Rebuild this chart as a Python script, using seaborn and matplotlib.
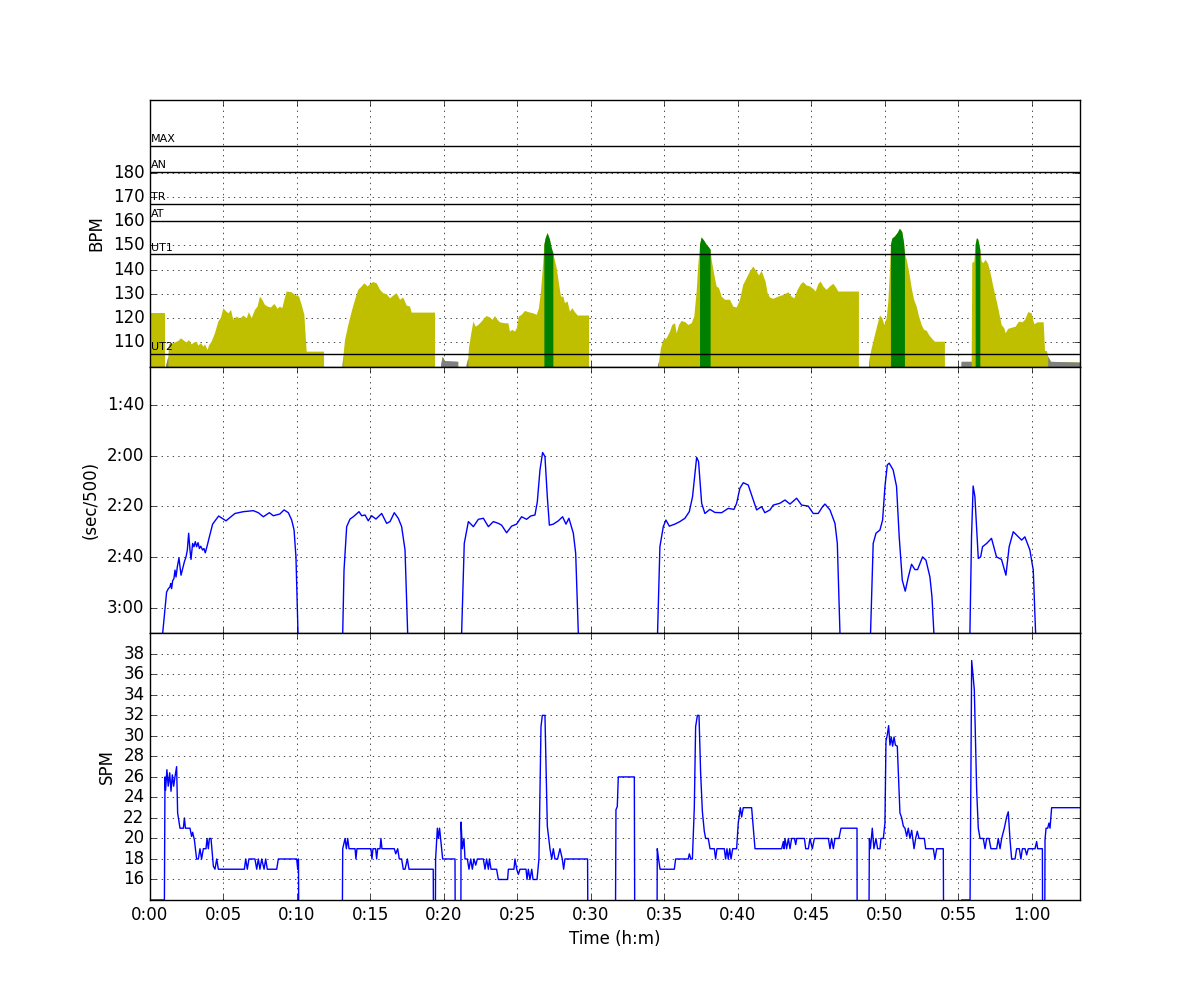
"""Rowing session overview: heart rate by zone, pace and stroke rate on a shared time axis.

Out: out.png
"""

import matplotlib

matplotlib.use("Agg")
import matplotlib.pyplot as plt
import numpy as np
import seaborn as sns
from matplotlib.ticker import FuncFormatter, MultipleLocator

nan = float("nan")

# Heart-rate zone limits (bpm) and their labels.
ZONE_NAMES = ["UT2", "UT1", "AT", "TR", "AN", "MAX"]
ZONE_BPM = [105.2, 146.3, 160.1, 167.2, 180.3, 191.2]

# (minutes, bpm); nan = no reading above 100 bpm.
HR = [
    (0.0, 122.3), (1.02, 122.3), (1.04, nan),
    (1.1, 100.5), (1.25, 104.1), (1.29, 109.2), (1.59, 109.7), (1.93, 110.6), (2.11, 111.7),
    (2.34, 110.6), (2.49, 110.0), (2.65, 111.0), (2.83, 109.2), (3.02, 110.0), (3.17, 110.3),
    (3.29, 108.7), (3.47, 109.7), (3.63, 108.3), (3.74, 109.2), (3.92, 106.9), (4.01, 108.7),
    (4.19, 110.3), (4.42, 113.8), (4.65, 118.6), (4.83, 120.3), (4.99, 124.1), (5.15, 123.0),
    (5.33, 122.0), (5.51, 123.4), (5.67, 119.3), (5.9, 120.7), (6.12, 119.7), (6.35, 121.1),
    (6.58, 120.0), (6.73, 122.5), (6.92, 120.0), (7.14, 123.4), (7.32, 124.8), (7.48, 128.9),
    (7.64, 127.6), (7.82, 125.5), (8.0, 124.8), (8.23, 124.4), (8.46, 125.9), (8.68, 123.9),
    (8.84, 124.8), (9.0, 124.1), (9.14, 127.6), (9.3, 131.0), (9.64, 130.7), (9.86, 129.6),
    (10.14, 128.9), (10.32, 125.5), (10.5, 121.4), (10.66, 106.2), (11.84, 106.2), (11.86, nan),
    (13.1, 100.5), (13.15, 104.1), (13.27, 111.0), (13.49, 117.2), (13.72, 122.7), (13.95, 127.6),
    (14.17, 131.7), (14.4, 133.1), (14.58, 134.4), (14.81, 133.1), (15.03, 134.4), (15.19, 134.9),
    (15.42, 134.4), (15.65, 131.7), (15.87, 130.3), (16.1, 129.9), (16.33, 128.2), (16.55, 129.3),
    (16.78, 130.3), (17.01, 127.6), (17.23, 128.5), (17.46, 125.2), (17.69, 124.8), (17.8, 122.3),
    (19.39, 122.3), (19.41, nan),
    (19.8, 100.5), (19.91, 104.1), (20.07, 102.3), (20.97, 102.0), (20.99, nan),
    (21.54, 100.7), (21.66, 103.5), (21.7, 107.6), (21.84, 113.1), (22.0, 118.6), (22.16, 116.5),
    (22.34, 117.2), (22.56, 118.6), (22.75, 120.0), (22.9, 120.9), (23.13, 120.3), (23.29, 119.3),
    (23.47, 120.9), (23.65, 119.3), (23.81, 118.3), (24.15, 117.9), (24.38, 117.9), (24.49, 114.5),
    (24.65, 115.2), (24.83, 114.5), (24.95, 115.8), (25.1, 120.7), (25.29, 121.4), (25.51, 123.0),
    (25.74, 122.5), (26.08, 122.0), (26.31, 121.4), (26.46, 124.1), (26.6, 131.0), (26.76, 143.4),
    (26.83, 150.3), (26.92, 153.0), (27.05, 155.1), (27.21, 152.4), (27.33, 148.9), (27.44, 146.8),
    (27.51, 144.8), (27.67, 140.6), (27.82, 134.4), (27.96, 128.9), (28.12, 128.9), (28.23, 126.2),
    (28.41, 126.9), (28.57, 122.7), (28.73, 124.1), (28.91, 122.5), (29.1, 121.1), (29.87, 121.1),
    (29.89, nan),
    (34.55, 100.3), (34.63, 102.0), (34.76, 107.6), (34.92, 111.0), (35.15, 111.7), (35.38, 114.5),
    (35.53, 117.2), (35.72, 117.9), (35.83, 113.8), (35.99, 117.2), (36.17, 118.9), (36.44, 118.3),
    (36.62, 117.2), (36.85, 117.9), (37.03, 120.7), (37.19, 131.0), (37.3, 142.0), (37.42, 150.3),
    (37.53, 153.3), (37.71, 151.9), (37.87, 150.3), (38.03, 149.2), (38.14, 148.2), (38.21, 144.1),
    (38.39, 137.9), (38.55, 133.1), (38.71, 132.4), (38.89, 128.9), (39.12, 127.6), (39.46, 127.6),
    (39.68, 124.8), (39.91, 124.4), (40.14, 127.6), (40.36, 133.8), (40.59, 136.5), (40.82, 139.3),
    (41.04, 141.3), (41.27, 139.3), (41.43, 137.6), (41.61, 139.5), (41.88, 135.1), (42.02, 130.3),
    (42.18, 128.5), (42.41, 128.0), (42.75, 128.9), (43.09, 129.6), (43.43, 130.7), (43.65, 128.9),
    (43.84, 128.2), (44.06, 131.7), (44.29, 134.1), (44.45, 134.9), (44.67, 133.5), (44.9, 133.1),
    (45.13, 132.1), (45.29, 131.0), (45.47, 134.1), (45.63, 135.1), (45.81, 133.1), (46.03, 131.7),
    (46.26, 133.1), (46.49, 134.2), (46.67, 132.7), (46.83, 131.0), (48.23, 131.0), (48.25, nan),
    (48.92, 100.3), (48.98, 104.1), (49.1, 107.6), (49.32, 113.1), (49.55, 118.6), (49.66, 121.1),
    (49.82, 120.0), (49.96, 117.2), (50.12, 120.0), (50.23, 126.9), (50.34, 139.3), (50.41, 150.3),
    (50.5, 152.8), (50.68, 153.7), (50.86, 155.1), (51.02, 156.9), (51.18, 155.5), (51.3, 151.0),
    (51.36, 146.5), (51.48, 144.1), (51.64, 139.3), (51.82, 132.4), (51.98, 127.6), (52.16, 124.8),
    (52.32, 120.7), (52.5, 117.2), (52.66, 115.2), (52.84, 114.8), (53.0, 113.1), (53.18, 111.7),
    (53.4, 110.3), (54.08, 110.3), (54.1, nan),
    (55.2, 100.3), (55.22, 102.0), (55.9, 102.0), (55.94, 142.7), (56.08, 143.4), (56.17, 150.3),
    (56.26, 153.0), (56.35, 152.4), (56.49, 148.2), (56.58, 143.4), (56.69, 142.7), (56.85, 144.1),
    (57.03, 142.3), (57.21, 137.9), (57.37, 133.1), (57.53, 128.9), (57.71, 124.1), (57.94, 117.2),
    (58.12, 115.8), (58.21, 113.8), (58.39, 115.6), (58.66, 116.1), (58.89, 116.5), (59.12, 118.6),
    (59.35, 118.3), (59.53, 119.3), (59.75, 122.5), (59.98, 122.0), (60.16, 117.5), (60.39, 118.3),
    (60.8, 118.3), (60.89, 106.5), (61.02, 106.5), (61.11, 104.1), (61.3, 102.0), (63.27, 101.7),
]

# (minutes, seconds per 500 m); values past 190 are off the bottom of the axis.
PACE = [
    (0.0, 230), (0.86, 190.1), (1.13, 173.7), (1.25, 172.4), (1.36, 171.7), (1.41, 170.4),
    (1.47, 172.4), (1.54, 169.3), (1.63, 168.4), (1.7, 165.1), (1.77, 167.8), (1.86, 163.8),
    (1.97, 160.3), (2.11, 167.1), (2.22, 164.5), (2.34, 161.8), (2.45, 159.9), (2.54, 157.2),
    (2.63, 150.6), (2.72, 157.2), (2.79, 160.9), (2.9, 154.6), (2.99, 155.9), (3.08, 153.9),
    (3.17, 155.9), (3.27, 154.3), (3.36, 156.6), (3.45, 155.7), (3.58, 157.2), (3.67, 156.6),
    (3.76, 158.3), (3.9, 155.3), (4.04, 152.0), (4.26, 147.0), (4.67, 143.8), (5.17, 145.7),
    (5.78, 142.8), (6.35, 142.1), (7.03, 141.7), (7.37, 142.5), (7.71, 144.1), (8.12, 142.5),
    (8.39, 143.7), (8.84, 143.0), (9.12, 141.4), (9.41, 142.5), (9.64, 145.4), (9.8, 149.3),
    (9.93, 159.9), (10.07, 190.1),
    (11.6, 230),
    (13.11, 190.0), (13.2, 165.1), (13.38, 148.0), (13.61, 145.0), (13.83, 144.1), (14.22, 142.1),
    (14.4, 143.7), (14.63, 143.4), (14.85, 145.7), (15.08, 143.7), (15.37, 145.0), (15.76, 142.8),
    (16.1, 146.7), (16.33, 146.0), (16.62, 142.5), (16.89, 144.7), (17.12, 148.0), (17.35, 157.2),
    (17.53, 190.0),
    (19.4, 230),
    (21.2, 190.0), (21.38, 154.6), (21.66, 146.0), (22.0, 148.0), (22.34, 145.1), (22.68, 144.7),
    (23.02, 148.0), (23.36, 146.0), (23.7, 146.7), (23.92, 147.4), (24.26, 150.4), (24.6, 147.8),
    (24.94, 147.0), (25.28, 144.1), (25.62, 145.1), (25.9, 143.8), (26.19, 143.4), (26.35, 138.2),
    (26.53, 125.7), (26.71, 118.8), (26.87, 120.4), (27.03, 136.2), (27.17, 147.4), (27.44, 147.0),
    (27.78, 145.7), (28.07, 144.1), (28.3, 147.0), (28.5, 144.7), (28.8, 150.6), (28.96, 158.5),
    (29.14, 190.0),
    (31.8, 230),
    (34.53, 190.0), (34.69, 155.9), (34.92, 148.0), (35.1, 145.4), (35.33, 147.8), (35.71, 147.0),
    (36.05, 146.0), (36.39, 144.7), (36.69, 142.1), (36.91, 136.2), (37.19, 120.7), (37.32, 122.4),
    (37.53, 138.8), (37.75, 142.8), (38.09, 141.2), (38.43, 142.4), (38.89, 142.5), (39.34, 140.8),
    (39.73, 141.2), (39.91, 138.8), (40.13, 132.9), (40.36, 130.7), (40.7, 131.6), (41.0, 136.8),
    (41.27, 141.4), (41.61, 140.1), (41.83, 142.5), (42.18, 141.4), (42.4, 139.5), (42.85, 138.8),
    (43.2, 137.5), (43.54, 139.1), (43.99, 136.8), (44.33, 139.5), (44.78, 139.9), (45.12, 142.8),
    (45.46, 142.8), (45.76, 140.1), (45.92, 139.1), (46.26, 141.4), (46.6, 146.7), (46.76, 154.6),
    (46.94, 190.0),
    (48.0, 230),
    (49.02, 190.0), (49.2, 154.6), (49.39, 150.6), (49.66, 149.3), (49.84, 145.4), (50.0, 132.2),
    (50.16, 123.7), (50.29, 123.0), (50.56, 125.7), (50.79, 132.2), (50.97, 152.0), (51.18, 169.1),
    (51.38, 173.4), (51.59, 167.8), (51.81, 162.8), (52.04, 164.9), (52.22, 164.9), (52.56, 159.9),
    (52.79, 161.2), (53.06, 167.8), (53.2, 175.7), (53.33, 190.0),
    (54.6, 230),
    (55.78, 190.0), (55.89, 152.0), (56.0, 132.0), (56.12, 136.2), (56.35, 160.5), (56.51, 159.9),
    (56.64, 155.9), (56.92, 154.6), (57.25, 152.6), (57.59, 159.9), (57.93, 160.9), (58.23, 167.1),
    (58.45, 155.9), (58.73, 150.0), (59.07, 152.0), (59.3, 153.3), (59.52, 152.0), (59.86, 157.2),
    (60.09, 165.1), (60.25, 190.0),
    (63.27, 230),
]

# (minutes, strokes per minute); 0 = not rowing (off the bottom of the axis).
SPM = [
    (0.0, 14.0), (0.98, 14.0), (1.02, 26.0), (1.06, 24.7), (1.15, 26.7), (1.24, 25.1), (1.34, 26.4),
    (1.43, 24.6), (1.52, 26.2), (1.61, 25.1), (1.7, 26.0), (1.81, 27.0), (1.88, 22.5), (2.04, 21.0),
    (2.27, 21.0), (2.34, 22.0), (2.41, 21.0), (2.72, 21.0), (2.83, 20.2), (2.9, 20.6), (3.02, 19.85),
    (3.17, 18.0), (3.29, 18.0), (3.4, 19.0), (3.51, 18.0), (3.63, 19.0), (3.81, 19.0), (3.88, 20.0),
    (3.97, 19.0), (4.04, 20.0), (4.15, 20.0), (4.31, 17.3), (4.42, 17.0), (4.54, 18.0), (4.65, 17.0),
    (6.42, 17.0), (6.51, 18.0), (6.62, 17.0), (6.73, 18.0), (7.14, 18.0), (7.26, 17.0), (7.37, 18.0),
    (7.48, 17.0), (7.6, 18.0), (7.76, 17.0), (7.87, 18.0), (7.98, 17.0), (8.62, 17.0), (8.73, 18.0),
    (9.98, 18.0), (10.05, 17.0), (10.1, 18.0), (10.16, 0.0),
    (13.04, 0.0), (13.11, 19.0), (13.27, 20.0), (13.36, 19.0), (13.45, 20.0), (13.54, 19.0),
    (13.95, 19.0), (14.01, 18.0), (14.08, 19.0), (15.03, 19.0), (15.1, 18.0), (15.17, 19.0),
    (15.35, 19.0), (15.42, 18.0), (15.49, 19.0), (15.65, 19.0), (15.71, 20.0), (15.78, 19.0),
    (16.62, 19.0), (16.72, 18.5), (16.85, 19.0), (16.96, 18.0), (17.12, 18.0), (17.23, 17.0),
    (17.35, 17.0), (17.51, 18.0), (17.62, 17.0), (19.27, 17.0), (19.32, 0.0),
    (19.38, 0.0), (19.43, 18.0), (19.55, 21.0), (19.62, 20.0), (19.7, 21.0), (19.84, 19.0),
    (19.91, 18.0), (20.75, 18.0), (20.79, 0.0),
    (21.14, 0.0), (21.16, 21.6), (21.25, 19.0), (21.36, 20.0), (21.43, 18.0), (21.59, 18.0),
    (21.7, 17.0), (21.82, 18.0), (21.93, 17.0), (22.04, 18.0), (22.16, 17.4), (22.27, 18.0),
    (22.68, 18.0), (22.79, 17.0), (22.9, 18.0), (23.02, 17.0), (23.09, 18.0), (23.2, 17.0),
    (23.58, 17.0), (23.7, 16.0), (24.33, 16.0), (24.38, 17.0), (24.76, 17.0), (24.83, 18.0),
    (24.95, 17.0), (25.06, 16.5), (25.17, 17.0), (25.58, 17.0), (25.65, 16.0), (25.74, 17.0),
    (25.85, 16.0), (25.97, 17.0), (26.06, 16.0), (26.33, 16.0), (26.46, 18.0), (26.6, 30.9),
    (26.69, 32.0), (26.87, 32.0), (27.03, 21.2), (27.21, 19.0), (27.33, 18.0), (27.44, 19.0),
    (27.55, 18.0), (27.73, 18.0), (27.89, 19.0), (28.05, 18.0), (28.14, 17.0), (28.23, 18.0),
    (29.77, 18.0), (29.82, 0.0),
    (31.63, 0.0), (31.7, 22.8), (31.79, 23.1), (31.86, 26.0), (32.95, 26.0), (33.0, 0.0),
    (34.47, 0.0), (34.51, 19.0), (34.6, 18.0), (34.7, 17.0), (35.67, 17.0), (35.76, 18.0),
    (36.62, 18.0), (36.69, 18.5), (36.8, 18.0), (36.9, 18.0), (37.03, 23.0), (37.12, 30.9),
    (37.24, 32.0), (37.35, 32.0), (37.46, 26.4), (37.58, 22.6), (37.71, 20.7), (37.8, 20.0),
    (37.98, 20.0), (38.1, 19.0), (38.39, 19.0), (38.48, 18.0), (38.57, 19.0), (39.07, 19.0),
    (39.16, 18.0), (39.25, 19.0), (39.34, 18.0), (39.44, 19.0), (39.53, 18.0), (39.64, 19.0),
    (39.91, 19.0), (40.02, 21.5), (40.16, 23.0), (40.25, 22.1), (40.36, 23.0), (40.93, 23.0),
    (41.16, 19.0), (42.97, 19.0), (43.09, 19.7), (43.14, 19.0), (43.2, 20.0), (43.31, 19.0),
    (43.43, 20.0), (43.54, 19.0), (43.65, 20.0), (43.84, 20.0), (43.93, 19.4), (44.0, 20.0),
    (44.52, 20.0), (44.61, 19.0), (44.79, 19.0), (44.9, 20.0), (45.06, 19.0), (45.2, 20.0),
    (46.15, 20.0), (46.26, 19.0), (46.37, 20.0), (46.49, 19.0), (46.6, 20.0), (46.87, 20.0),
    (47.01, 21.0), (48.1, 21.0), (48.12, 0.0),
    (48.87, 0.0), (48.94, 20.0), (49.01, 19.0), (49.14, 21.0), (49.25, 19.0), (49.39, 20.0),
    (49.5, 19.0), (49.66, 19.0), (49.73, 20.0), (49.89, 20.0), (50.0, 21.5), (50.07, 29.5),
    (50.16, 30.1), (50.25, 31.0), (50.34, 29.1), (50.43, 29.9), (50.52, 29.0), (50.62, 29.9),
    (50.71, 29.1), (50.84, 29.0), (51.02, 22.5), (51.14, 22.0), (51.25, 21.2), (51.36, 21.0),
    (51.48, 20.2), (51.59, 21.0), (51.7, 20.0), (51.82, 20.8), (51.98, 19.0), (52.09, 20.0),
    (52.2, 20.7), (52.32, 20.0), (52.68, 20.0), (52.77, 19.0), (53.29, 19.0), (53.4, 18.0),
    (53.52, 19.0), (53.97, 19.0), (54.02, 0.0),
    (55.2, 0.0), (55.22, 14.0), (55.79, 14.0), (55.9, 37.35), (56.08, 34.5), (56.24, 24.7),
    (56.35, 21.0), (56.47, 20.0), (56.69, 20.0), (56.81, 19.0), (56.92, 20.0), (57.08, 20.0),
    (57.21, 19.0), (57.6, 19.0), (57.71, 20.0), (57.83, 19.0), (57.94, 20.0), (58.12, 21.0),
    (58.28, 22.1), (58.39, 22.6), (58.51, 19.85), (58.62, 18.0), (58.85, 18.0), (58.96, 19.0),
    (59.14, 19.0), (59.25, 18.0), (59.35, 19.0), (59.53, 19.0), (59.64, 18.4), (59.75, 19.0),
    (60.21, 19.0), (60.32, 19.7), (60.39, 19.0), (60.71, 19.0), (60.75, 0.0), (60.85, 0.0),
    (60.89, 19.85), (60.96, 21.0), (61.07, 21.0), (61.16, 21.5), (61.23, 21.0), (61.34, 23.0),
    (63.27, 23.0),
]

T_END = 63.27


def mmss(v, _pos=None):
    """Minutes -> h:mm, or seconds -> m:ss (same arithmetic)."""
    v = int(round(v))
    return f"{v // 60}:{v % 60:02d}"


def main() -> None:
    plt.style.use("classic")

    hr_t, hr_v = (np.array(c, dtype=float) for c in zip(*HR))
    pace_t, pace_v = zip(*PACE)
    spm_t, spm_v = zip(*SPM)

    fig, (ax1, ax2, ax3) = plt.subplots(3, 1, sharex=True, figsize=(12, 10), facecolor="white")
    fig.subplots_adjust(left=0.125, right=0.9, top=0.9, bottom=0.1, hspace=0)

    # heart rate, coloured by zone
    valid = ~np.isnan(hr_v)
    ut2, ut1 = ZONE_BPM[0], ZONE_BPM[1]
    with np.errstate(invalid="ignore"):
        low = valid & (hr_v < ut2)
        high = valid & (hr_v >= ut1)
    ax1.set_axisbelow(True)
    ax1.fill_between(hr_t, 0, np.nan_to_num(hr_v), where=valid, color="y", lw=0)
    ax1.fill_between(hr_t, 0, np.nan_to_num(hr_v), where=low, color="gray", lw=0)
    ax1.fill_between(hr_t, 0, np.nan_to_num(hr_v), where=high, color="g", lw=0)
    for name, bpm in zip(ZONE_NAMES, ZONE_BPM):
        ax1.axhline(bpm, color="k", lw=1, zorder=3)
        ax1.text(5 / 60, bpm + 1.5, name, size=8)
    ax1.set_ylim(100, 210)
    ax1.set_yticks(range(110, 190, 10))
    ax1.set_ylabel("BPM")

    # pace
    sns.lineplot(x=pace_t, y=pace_v, ax=ax2, color="b", lw=1, estimator=None, sort=False)
    ax2.set_ylim(190, 85)
    ax2.yaxis.set_major_locator(MultipleLocator(20))
    ax2.yaxis.set_major_formatter(FuncFormatter(mmss))
    ax2.set_ylabel("(sec/500)")

    # stroke rate
    sns.lineplot(x=spm_t, y=spm_v, ax=ax3, color="b", lw=1, estimator=None, sort=False)
    ax3.set_ylim(14, 40)
    ax3.set_yticks(range(16, 40, 2))
    ax3.set_ylabel("SPM")

    for ax in (ax1, ax2, ax3):
        ax.grid(True, color="k", ls=":", lw=0.5)
    ax3.set_xlim(0, T_END)
    ax3.xaxis.set_major_locator(MultipleLocator(5))
    ax3.xaxis.set_major_formatter(FuncFormatter(mmss))
    ax3.set_xlabel("Time (h:m)")

    fig.savefig("out.png", dpi=100, facecolor="white")
    plt.close(fig)


if __name__ == "__main__":
    main()
